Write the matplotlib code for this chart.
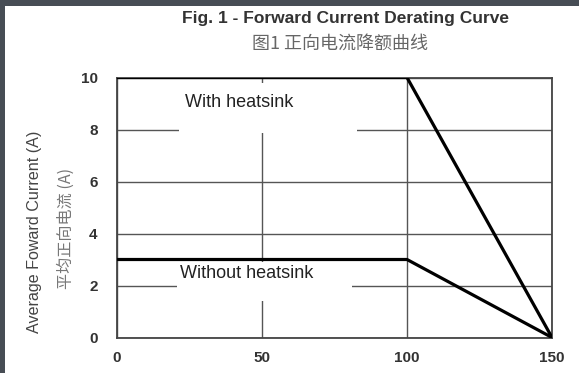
import matplotlib
matplotlib.use('Agg')
import matplotlib.pyplot as plt
from matplotlib.patches import Rectangle

# temperature (x) vs allowed average forward current (y)
temp = [0, 100, 150]
with_heatsink = [10, 10, 0]
without_heatsink = [3, 3, 0]
xticks = [0, 50, 100, 150]
yticks = [0, 2, 4, 6, 8, 10]

plt.rcParams['font.family'] = ['Liberation Sans', 'Noto Sans CJK SC', 'DejaVu Sans']

fig = plt.figure(figsize=(5.79, 3.73), dpi=100)
W, H = 579.0, 373.0
ax = fig.add_axes([117 / W, 1 - 337.5 / H, 435 / W, 260 / H])

ax.set_xlim(0, 150)
ax.set_ylim(0, 10)
ax.set_xticks(xticks)
ax.set_yticks(yticks)
ax.tick_params(length=0, labelsize=11, colors='#333333')
for lab in ax.get_xticklabels() + ax.get_yticklabels():
    lab.set_fontweight('bold')
ax.tick_params(axis='y', pad=14)
ax.tick_params(axis='x', pad=10)

ax.grid(True, color='#555555', lw=1.0)
ax.set_axisbelow(True)
for s in ax.spines.values():
    s.set_color('#444444')
    s.set_linewidth(1.3)

# white label boxes cutting through the grid
ax.add_patch(Rectangle((21.4, 7.85), 61.4, 1.92, facecolor='white', edgecolor='none', zorder=1.5))
ax.add_patch(Rectangle((20.6, 1.4), 60.6, 1.5, facecolor='white', edgecolor='none', zorder=1.5))

ax.plot(temp, with_heatsink, color='black', lw=2.3, zorder=3, solid_capstyle='butt')
ax.plot(temp, without_heatsink, color='black', lw=2.3, zorder=3, solid_capstyle='butt')

ax.text(23.3, 9.02, 'With heatsink', fontsize=13, color='#222222', va='center', zorder=4)
ax.text(21.8, 2.48, 'Without heatsink', fontsize=13, color='#222222', va='center', zorder=4)

fig.text(346 / W, 1 - 19 / H, 'Fig. 1 - Forward Current Derating Curve', ha='center', va='center',
         fontsize=12.5, fontweight='bold', color='#333333')
fig.text(340 / W, 1 - 44 / H, '图1 正向电流降额曲线', ha='center', va='center',
         fontsize=13, color='#666666', family=['Noto Sans CJK SC', 'DejaVu Sans'])
fig.text(35 / W, 1 - 232 / H, 'Average Foward Current (A)', ha='center', va='center', rotation=90,
         fontsize=11.6, color='#444444')
fig.text(66 / W, 1 - 228 / H, '平均正向电流 (A)', ha='center', va='center', rotation=90,
         fontsize=11.6, color='#777777', family=['Noto Sans CJK SC', 'DejaVu Sans'])

# dark frame along the top and left edges
fig.patches.append(Rectangle((0, 1 - 6 / H), 1, 6 / H, transform=fig.transFigure,
                             facecolor='#474d55', edgecolor='none'))
fig.patches.append(Rectangle((0, 0), 5 / W, 1, transform=fig.transFigure,
                             facecolor='#474d55', edgecolor='none'))

fig.savefig('out.png', dpi=100)
